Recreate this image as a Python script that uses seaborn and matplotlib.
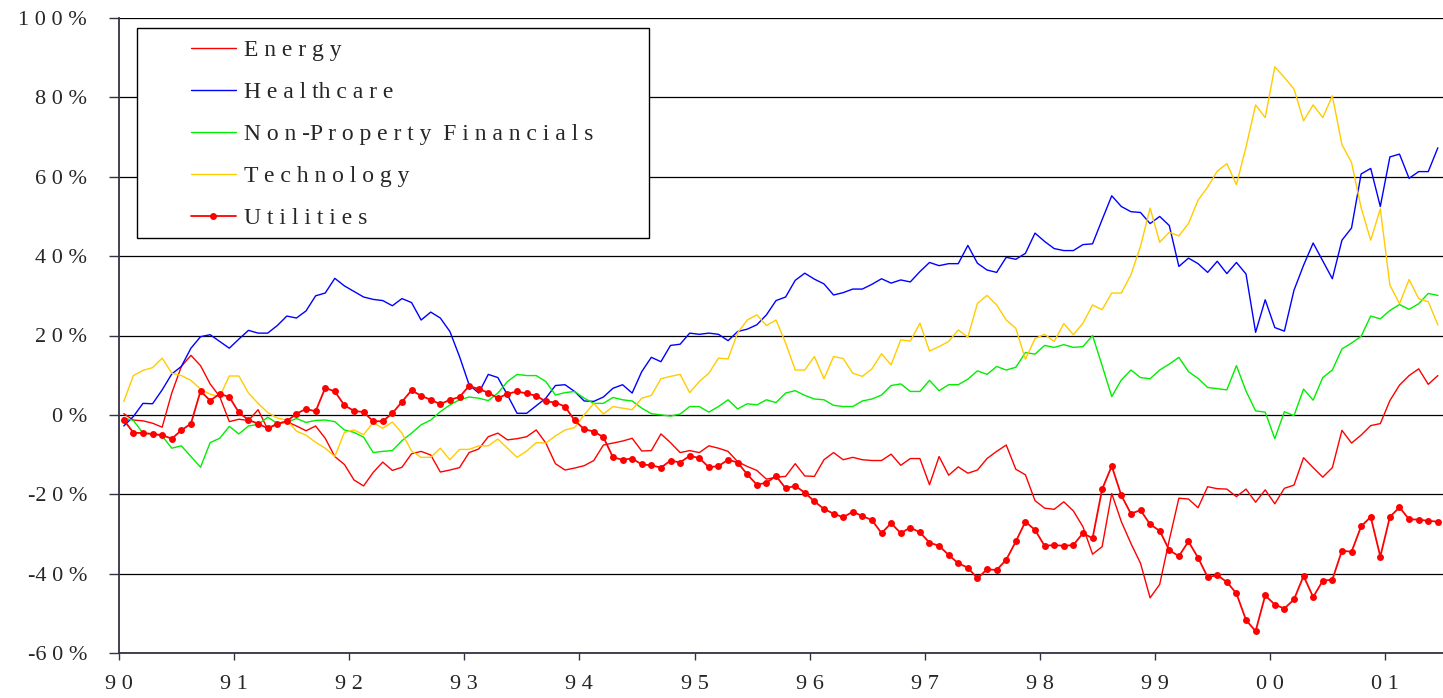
import matplotlib.pyplot as plt
import seaborn as sns
import numpy as np
import pandas as pd
from matplotlib.patches import Rectangle

# cumulative relative performance, monthly, Jan 1990 - Jun 2001 (%)
energy = [0.3, -1.3, -1.5, -2.1, -3.1, 5.5, 12.2, 15.0, 12.4, 7.8, 4.6, -1.7, -1.1, -1.4, 1.3, -3.6, -2.1, -1.7,
          -2.8, -4.0, -2.8, -5.9, -10.5, -12.5, -16.4,
          -17.9, -14.5, -11.9, -14.0, -13.2, -9.8, -9.2, -10.1, -14.4, -13.9, -13.3, -9.5, -8.6, -5.5, -4.6, -6.3,
          -6.0, -5.5, -3.8, -7.1, -12.3, -13.9, -13.4, -12.8,
          -11.5, -7.6, -7.1, -6.6, -5.9, -9.1, -9.0, -4.8, -7.0, -9.5, -9.0, -9.5, -7.8, -8.4, -9.2, -11.8, -13.0,
          -14.0, -16.2, -15.7, -15.5, -12.3, -15.4, -15.5,
          -11.3, -9.5, -11.3, -10.7, -11.3, -11.5, -11.5, -9.9, -12.7, -11.0, -11.0, -17.6, -10.5, -15.2, -13.1,
          -14.7, -13.9, -11.0, -9.2, -7.6, -13.7, -15.1, -21.6, -23.5,
          -23.8, -21.9, -24.2, -28.2, -35.1, -33.2, -19.8, -26.9, -32.4, -37.4, -46.1, -42.7, -31.5, -21.0, -21.2,
          -23.4, -18.1, -18.6, -18.7, -20.6, -18.7, -22.0, -18.9, -22.4,
          -18.5, -17.7, -10.8, -13.3, -15.7, -13.3, -3.9, -7.1, -5.1, -2.7, -2.2, 3.6, 7.5, 9.9, 11.6, 7.7, 9.9]

healthcare = [-2.8, -0.4, 2.9, 2.8, 6.3, 10.3, 12.2, 16.8, 19.7, 20.2, 18.5, 16.8, 19.1, 21.3, 20.6, 20.6, 22.5,
              24.9, 24.4, 26.2, 30.0, 30.7, 34.4, 32.5, 31.1,
              29.7, 29.1, 28.8, 27.5, 29.3, 28.3, 23.9, 25.9, 24.4, 21.0, 14.7, 7.6, 5.5, 10.2, 9.4, 5.0, 0.4, 0.4,
              2.3, 4.2, 7.4, 7.6, 5.9, 3.5,
              3.4, 4.5, 6.7, 7.6, 5.5, 10.9, 14.5, 13.4, 17.5, 17.8, 20.6, 20.3, 20.6, 20.3, 18.7, 21.0, 21.6, 22.7,
              25.2, 28.8, 29.7, 33.9, 35.7, 34.2,
              33.0, 30.2, 30.8, 31.7, 31.7, 32.9, 34.3, 33.2, 34.0, 33.5, 36.1, 38.4, 37.6, 38.1, 38.1, 42.7, 38.2,
              36.5, 35.9, 39.7, 39.2, 40.7, 45.8, 43.7,
              41.9, 41.4, 41.4, 42.9, 43.1, 49.2, 55.2, 52.5, 51.2, 51.0, 48.2, 50.0, 47.7, 37.4, 39.5, 38.1, 35.9,
              38.7, 35.6, 38.4, 35.5, 20.8, 29.0, 22.0,
              21.1, 31.4, 37.7, 43.3, 38.8, 34.3, 44.0, 47.1, 60.7, 62.1, 52.5, 65.0, 65.7, 59.6, 61.3, 61.3, 67.3]

financials = [-0.8, -1.4, -4.6, -4.8, -5.3, -8.4, -7.8, -10.5, -13.2, -7.0, -5.9, -2.9, -4.8, -2.8, -2.4, -0.6,
              -2.1, -1.9, -0.9, -1.9, -1.4, -1.3, -1.7, -3.8, -4.4,
              -5.6, -9.5, -9.2, -9.0, -6.5, -4.6, -2.5, -1.3, 0.8, 2.5, 3.8, 4.5, 4.2, 3.6, 5.5, 8.4, 10.2, 9.9, 9.9,
              8.4, 5.0, 5.6, 5.9, 4.2,
              2.9, 2.9, 4.4, 3.8, 3.5, 1.7, 0.3, 0.0, -0.3, 0.2, 2.1, 2.1, 0.7, 2.1, 3.8, 1.5, 2.8, 2.5, 3.8, 3.1,
              5.5, 6.1, 4.9, 4.0,
              3.8, 2.4, 2.1, 2.1, 3.5, 4.0, 5.0, 7.4, 7.8, 5.9, 5.9, 8.7, 6.1, 7.6, 7.6, 9.0, 11.1, 10.2, 12.2, 11.3,
              12.0, 15.7, 15.3, 17.5,
              17.0, 17.7, 17.0, 17.2, 20.0, 12.4, 4.6, 8.8, 11.3, 9.4, 9.1, 11.3, 12.8, 14.5, 10.9, 9.2, 6.9, 6.6,
              6.3, 12.4, 6.0, 1.0, 0.7, -6.0,
              0.8, -0.2, 6.5, 3.7, 9.4, 11.3, 16.6, 18.1, 19.8, 24.9, 24.2, 26.3, 27.8, 26.6, 28.0, 30.6, 30.1]

technology = [3.4, 9.9, 11.2, 11.9, 14.3, 10.5, 9.9, 8.7, 6.5, 5.2, 4.6, 9.8, 9.8, 5.5, 2.9, 0.6, -0.8, -1.3,
              -4.1, -5.1, -6.9, -8.4, -10.5, -4.4, -3.8,
              -5.0, -1.9, -3.4, -1.8, -4.6, -9.1, -10.7, -10.7, -8.4, -11.3, -8.7, -8.7, -7.8, -7.8, -6.1, -8.4,
              -10.7, -9.1, -7.0, -7.1, -5.3, -3.8, -3.2, 0.0,
              2.9, 0.2, 2.1, 1.7, 1.3, 4.2, 4.9, 9.1, 9.7, 10.2, 5.6, 8.4, 10.5, 14.3, 14.1, 20.7, 23.9, 25.2, 22.5,
              23.9, 18.1, 11.3, 11.3, 14.7,
              9.1, 14.7, 14.2, 10.5, 9.7, 11.6, 15.4, 12.6, 18.9, 18.6, 23.1, 16.1, 17.2, 18.5, 21.4, 19.6, 28.1,
              30.1, 27.7, 23.9, 21.8, 14.0, 19.2, 20.3,
              18.5, 23.0, 20.2, 23.1, 27.7, 26.5, 30.7, 30.7, 35.3, 42.5, 52.1, 43.5, 46.0, 45.1, 48.2, 54.1, 57.4,
              61.4, 63.3, 58.0, 67.5, 78.1, 74.9, 87.7,
              85.0, 82.1, 74.1, 78.1, 74.9, 80.4, 68.1, 63.6, 52.2, 44.0, 51.9, 32.7, 28.0, 34.1, 29.3, 28.5, 22.7]

utilities = [-1.3, -4.5, -4.6, -4.8, -5.1, -6.0, -3.9, -2.2, 6.0, 3.6, 5.3, 4.5, 0.6, -1.3, -2.2, -3.4, -2.3,
             -1.6, 0.3, 1.5, 0.9, 6.8, 5.9, 2.4, 1.0,
             0.7, -1.6, -1.6, 0.4, 3.3, 6.2, 4.8, 3.8, 2.7, 3.8, 4.5, 7.3, 6.5, 5.6, 4.2, 5.3, 5.9, 5.4, 4.8, 3.4,
             3.1, 2.1, -1.4, -3.6,
             -4.2, -5.6, -10.7, -11.3, -11.0, -12.5, -12.7, -13.3, -11.5, -12.0, -10.3, -10.9, -13.2, -12.9, -11.3,
             -12.0, -15.0, -17.6, -17.1, -15.4, -18.5, -17.9, -19.6, -21.8,
             -23.7, -24.9, -25.8, -24.4, -25.5, -26.5, -29.8, -27.3, -29.8, -28.4, -29.6, -32.2, -33.0, -35.3,
             -37.4, -38.5, -41.2, -38.9, -39.1, -36.5, -31.9, -26.9, -29.0, -33.0,
             -32.8, -33.0, -32.8, -29.8, -31.1, -18.7, -12.9, -20.3, -24.9, -24.0, -27.6, -29.2, -34.1, -35.6,
             -31.9, -36.0, -40.9, -40.4, -42.1, -45.0, -51.7, -54.5, -45.5, -47.8,
             -48.8, -46.5, -40.6, -45.9, -41.8, -41.5, -34.2, -34.5, -28.1, -25.7, -35.7, -25.7, -23.3, -26.3,
             -26.4, -26.7, -26.9]

labels = ['E n e r g y', 'H e a l th c a r e', 'N o n -P r o p e r t y  F i n a n c i a l s',
          'T e c h n o l o g y', 'U t i l i t i e s']
colors = ['#ff0000', '#0000ff', '#00ee00', '#ffcc00', '#ff0000']
year_labels = ['9 0', '9 1', '9 2', '9 3', '9 4', '9 5', '9 6', '9 7', '9 8', '9 9', '0 0', '0 1']
pct_ticks = [-60, -40, -20, 0, 20, 40, 60, 80, 100]
pct_labels = ['-6 0 %', '-4 0 %', '-2 0 %', '0 %', '2 0 %', '4 0 %', '6 0 %', '8 0 %', '1 0 0 %']

# mid-month positions in fractional years
months = pd.date_range('1990-01-15', periods=len(utilities), freq='MS')
x = 1990 + (np.arange(len(months)) + 0.5) / 12

sns.set_style('white')
plt.rcParams['font.family'] = ['Liberation Serif', 'DejaVu Serif']

fig = plt.figure(figsize=(14.43, 6.98), dpi=100)
ax = fig.add_axes([119 / 1443, 45 / 698, 1324 / 1443, 635 / 698])

series = [energy, healthcare, financials, technology]
for vals, lab, col in zip(series, labels[:4], colors[:4]):
    sns.lineplot(x=x, y=vals, color=col, linewidth=1.0, estimator=None, label=lab, ax=ax, zorder=3)
sns.lineplot(x=x, y=utilities, color=colors[4], linewidth=1.3, marker='o', markersize=5,
             markeredgewidth=0, estimator=None, label=labels[4], ax=ax, zorder=3)

ax.set_xlim(1990, 1990 + 1324 / 115.1)
ax.set_ylim(-60, 100)
ax.set_xticks(range(1990, 2002))
ax.set_xticklabels(year_labels)
ax.set_yticks(pct_ticks)
ax.set_yticklabels(pct_labels)
ax.tick_params(axis='y', left=True, direction='out', length=7, width=1, pad=16, labelsize=16, color='#333344')
ax.tick_params(axis='x', bottom=True, direction='out', length=5, width=1, pad=11, labelsize=16, color='#333344')
ax.yaxis.grid(True, color='black', linewidth=0.9, zorder=1)
ax.set_axisbelow(True)
for s in ['top', 'right']:
    ax.spines[s].set_visible(False)
for s in ['left', 'bottom']:
    ax.spines[s].set_color('#333344')
    ax.spines[s].set_linewidth(1.3)
ax.set_xlabel('')
ax.set_ylabel('')

# legend box drawn separately so it can be wider than its content
ax.add_patch(Rectangle((0.0136, 0.654), 0.387, 0.330, transform=ax.transAxes, facecolor='white',
                       edgecolor='black', linewidth=1, zorder=4))
ax.legend(loc='upper left', bbox_to_anchor=(0.0544, 0.966), frameon=False, fontsize=17,
          borderpad=0, borderaxespad=0, handlelength=1.9, handletextpad=0.35, labelspacing=0.87)
ax.get_legend().set_zorder(5)

plt.savefig('out.png', dpi=100)
plt.close()
